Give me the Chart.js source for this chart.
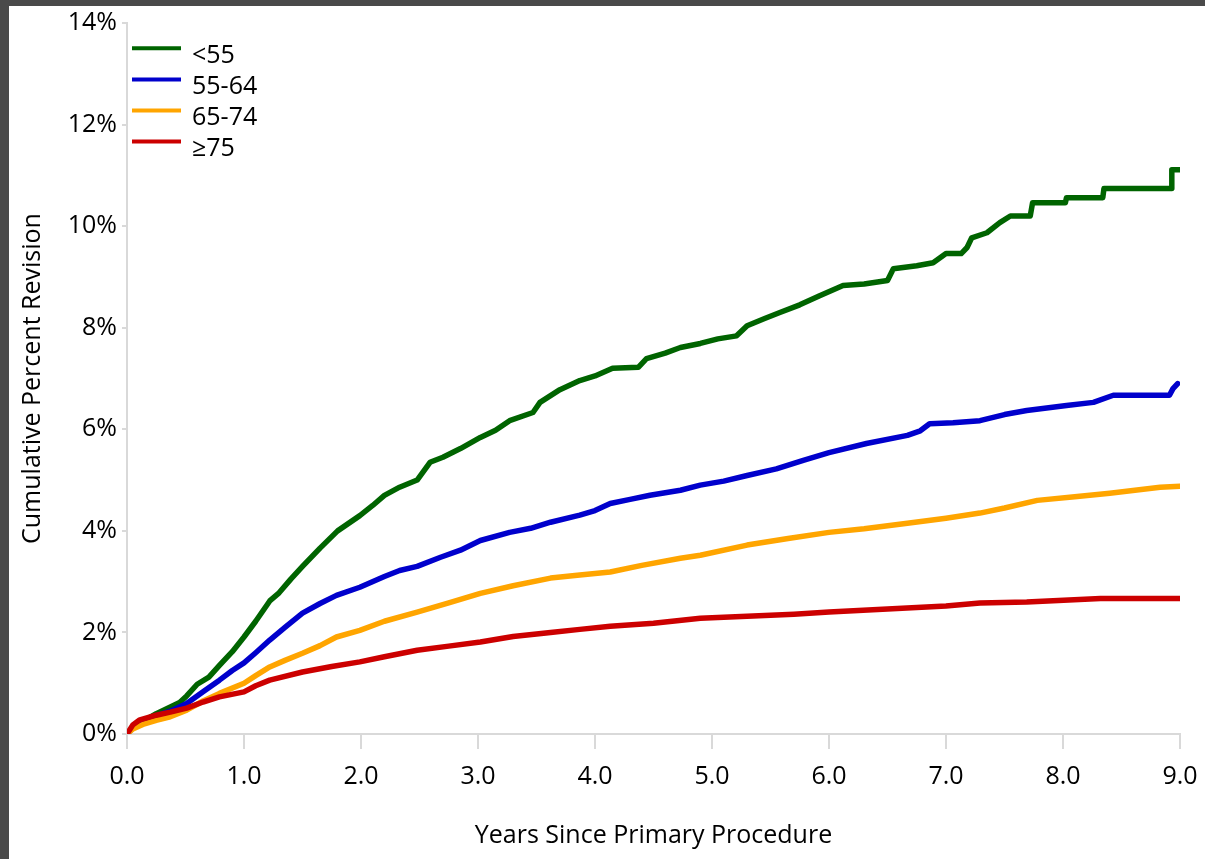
<!DOCTYPE html>
<html>
<head>
<meta charset="utf-8">
<script src="https://cdn.jsdelivr.net/npm/chart.js@4/dist/chart.umd.min.js"></script>
<style>
  html, body { margin: 0; padding: 0; background: #4a4a4a; width: 1205px; height: 859px; overflow: hidden; }
  #wrap { position: absolute; left: 9px; top: 6px; width: 1196px; height: 853px; background: #ffffff; }
  canvas { display: block; }
</style>
</head>
<body>
<div id="wrap"><canvas id="c" width="1196" height="853"></canvas></div>
<script>
// ---- Data (years since primary procedure, cumulative percent revision) ----
const seriesLabels = ['<55', '55-64', '65-74', '\u226575'];
const seriesColors = ['#006400', '#0000cc', '#ffa500', '#cc0000'];

const yearsUnder55 = [0,0.05,0.15,0.25,0.37,0.45,0.51,0.6,0.7,0.79,0.9,1.0,1.1,1.22,1.3,1.4,1.5,1.65,1.8,1.99,2.1,2.2,2.33,2.48,2.59,2.7,2.85,3.02,3.15,3.27,3.47,3.53,3.7,3.87,4.0,4.15,4.37,4.44,4.6,4.73,4.9,5.05,5.21,5.3,5.45,5.58,5.75,5.92,6.12,6.3,6.5,6.55,6.75,6.89,7.0,7.13,7.18,7.22,7.35,7.46,7.55,7.72,7.74,8.02,8.03,8.34,8.35,8.93,8.93,9.0];
const pctUnder55   = [0,0.13,0.27,0.4,0.53,0.62,0.75,0.98,1.12,1.35,1.62,1.91,2.22,2.62,2.78,3.05,3.3,3.66,4.0,4.3,4.5,4.7,4.86,5.0,5.35,5.45,5.62,5.84,5.98,6.17,6.33,6.53,6.78,6.96,7.05,7.2,7.22,7.39,7.5,7.61,7.69,7.78,7.84,8.04,8.18,8.3,8.45,8.63,8.83,8.86,8.93,9.16,9.22,9.28,9.46,9.46,9.58,9.77,9.87,10.07,10.2,10.2,10.46,10.46,10.56,10.56,10.74,10.74,11.11,11.11];

const years55to64 = [0,0.05,0.15,0.25,0.37,0.51,0.65,0.79,0.9,1.0,1.1,1.22,1.35,1.5,1.65,1.79,1.99,2.2,2.33,2.48,2.68,2.85,3.02,3.27,3.45,3.62,3.87,4.0,4.13,4.3,4.47,4.73,4.9,5.1,5.3,5.55,5.78,6.0,6.32,6.67,6.78,6.86,7.06,7.29,7.5,7.69,8.03,8.26,8.43,8.91,8.94,8.98];
const pct55to64   = [0,0.12,0.26,0.36,0.45,0.6,0.83,1.06,1.25,1.4,1.6,1.85,2.1,2.38,2.57,2.73,2.89,3.1,3.22,3.3,3.48,3.62,3.81,3.97,4.05,4.17,4.31,4.4,4.54,4.62,4.7,4.8,4.9,4.98,5.09,5.22,5.39,5.54,5.72,5.88,5.97,6.11,6.13,6.17,6.29,6.37,6.47,6.53,6.67,6.67,6.8,6.9];

const years65to74 = [0,0.05,0.15,0.25,0.37,0.51,0.65,0.79,1.0,1.1,1.22,1.35,1.5,1.65,1.79,1.99,2.2,2.48,2.75,3.02,3.3,3.62,3.87,4.13,4.4,4.73,4.9,5.3,5.65,6.0,6.3,6.67,7.0,7.29,7.5,7.78,8.1,8.4,8.83,9.0];
const pct65to74   = [0,0.1,0.2,0.27,0.34,0.47,0.65,0.8,1.0,1.15,1.32,1.45,1.59,1.74,1.91,2.04,2.22,2.4,2.58,2.77,2.92,3.07,3.13,3.19,3.32,3.46,3.52,3.72,3.85,3.97,4.04,4.15,4.25,4.35,4.45,4.6,4.67,4.74,4.86,4.88];

const years75plus = [0,0.05,0.11,0.25,0.37,0.51,0.65,0.79,1.0,1.1,1.22,1.5,1.75,1.99,2.2,2.48,2.75,3.02,3.3,3.62,3.87,4.13,4.5,4.9,5.3,5.7,6.0,6.5,7.0,7.29,7.69,8.32,9.0];
const pct75plus   = [0,0.18,0.28,0.37,0.43,0.51,0.63,0.73,0.83,0.95,1.06,1.22,1.33,1.42,1.52,1.65,1.73,1.81,1.92,2.0,2.06,2.12,2.18,2.28,2.32,2.36,2.4,2.46,2.52,2.58,2.6,2.67,2.67];

const xTicks = [0,1,2,3,4,5,6,7,8,9];
const yTicks = [0,2,4,6,8,10,12,14];

const seriesYears = [yearsUnder55, years55to64, years65to74, years75plus];
const seriesPct = [pctUnder55, pct55to64, pct65to74, pct75plus];

const FONT = "'Open Sans', 'DejaVu Sans', sans-serif";

const datasets = seriesLabels.map((lab, i) => ({
  label: lab,
  data: seriesYears[i].map((x, j) => ({ x: x, y: seriesPct[i][j] })),
  borderColor: seriesColors[i],
  backgroundColor: seriesColors[i],
  borderWidth: 5.5,
  pointRadius: 0,
  tension: 0,
  fill: false,
  borderCapStyle: 'round',
  borderJoinStyle: 'round',
  order: seriesLabels.length - i
}));

const legendPlugin = {
  id: 'customLegend',
  afterDraw(chart) {
    const ctx = chart.ctx;
    ctx.save();
    const x0 = 123, x1 = 172, tx = 183, y0 = 42.3, dy = 31.1;
    ctx.font = "25px " + FONT;
    ctx.textBaseline = 'alphabetic';
    ctx.textAlign = 'left';
    seriesLabels.forEach((lab, i) => {
      const y = y0 + i * dy;
      ctx.strokeStyle = seriesColors[i];
      ctx.lineWidth = 4;
      ctx.lineCap = 'butt';
      ctx.beginPath();
      ctx.moveTo(x0, y);
      ctx.lineTo(x1, y);
      ctx.stroke();
      ctx.fillStyle = '#000000';
      ctx.fillText(lab, tx, y + 14.4);
    });
    ctx.restore();
  }
};

new Chart(document.getElementById('c'), {
  type: 'line',
  data: { datasets: datasets },
  options: {
    responsive: false,
    animation: false,
    layout: { padding: { top: 17, right: 25, bottom: 0, left: 0 } },
    plugins: { legend: { display: false }, tooltip: { enabled: false } },
    scales: {
      x: {
        type: 'linear',
        min: 0, max: 9,
        afterBuildTicks: (s) => { s.ticks = xTicks.map(v => ({ value: v })); },
        afterFit: (s) => { s.height = 125; s.paddingRight = 0; s.paddingLeft = 0; },
        ticks: { color: '#000', font: { family: FONT, size: 25 }, padding: 13, maxRotation: 0,
                 callback: (v) => Number(v).toFixed(1) },
        grid: { display: true, drawOnChartArea: false, drawTicks: true, tickLength: 15, color: '#d9d9d9', lineWidth: 2 },
        border: { display: true, color: '#d9d9d9', width: 2 },
        title: { display: true, text: 'Years Since Primary Procedure', color: '#000',
                 font: { family: FONT, size: 25 }, padding: { top: 0, bottom: 8 } }
      },
      y: {
        type: 'linear',
        min: 0, max: 14,
        afterBuildTicks: (s) => { s.ticks = yTicks.map(v => ({ value: v })); },
        afterFit: (s) => { s.width = 118; s.paddingTop = 0; s.paddingBottom = 0; },
        ticks: { color: '#000', font: { family: FONT, size: 25 }, padding: 5,
                 callback: (v) => v + '%' },
        grid: { display: true, drawOnChartArea: false, drawTicks: true, tickLength: 5, color: '#d9d9d9', lineWidth: 2 },
        border: { display: true, color: '#d9d9d9', width: 2 },
        title: { display: true, text: 'Cumulative Percent Revision', color: '#000',
                 font: { family: FONT, size: 25 }, padding: { top: 9, bottom: 0 } }
      }
    }
  },
  plugins: [legendPlugin]
});
</script>
</body>
</html>
